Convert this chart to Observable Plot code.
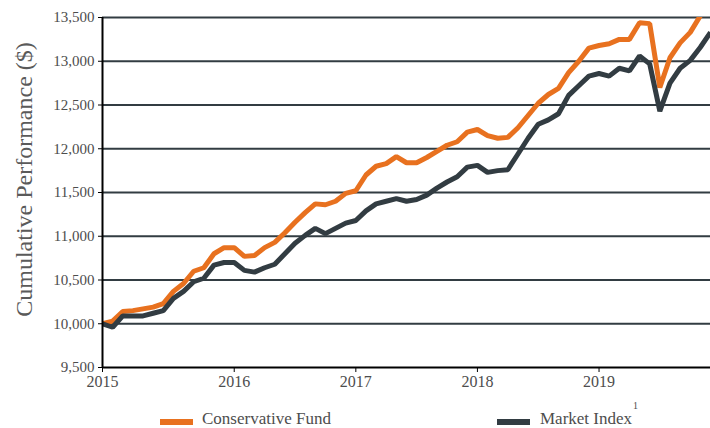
<!DOCTYPE html>
<html>
<head>
<meta charset="utf-8">
<script src="https://cdn.jsdelivr.net/npm/d3@7"></script>
<script src="https://cdn.jsdelivr.net/npm/@observablehq/plot@0.6"></script>
<style>
  body { margin: 0; background: #fff; }
  #wrap { position: relative; width: 710px; height: 428px; overflow: hidden; font-family: "Liberation Serif", serif; color: #4d4d4d; }
  #chart { position: absolute; left: 0; top: 0; }
  .sw { position: absolute; height: 6px; width: 33px; }
  .lt { position: absolute; font-size: 17px; line-height: 16px; white-space: nowrap; }
  .sup { position: absolute; font-size: 10px; line-height: 10px; }
</style>
</head>
<body>
<div id="wrap">
  <div id="chart"></div>
  <div id="legend"></div>
</div>
<script>
// ---- data ----
const seriesNames = ["Conservative Fund", "Market Index"];
const seriesColors = ["#e8711f", "#323c42"];

// monthly cumulative values, index 0 = start (labelled 2015)
const conservativeFund = [
  10000, 10030, 10140, 10150, 10170, 10190, 10230, 10370, 10460, 10600,
  10640, 10800, 10870, 10870, 10770, 10780, 10870, 10930, 11040, 11160,
  11270, 11370, 11360, 11400, 11490, 11520, 11700, 11800, 11830, 11910,
  11840, 11840, 11900, 11970, 12040, 12080, 12190, 12220, 12150, 12120,
  12130, 12240, 12380, 12520, 12620, 12690, 12870, 13000, 13150, 13180,
  13200, 13250, 13250, 13440, 13430, 12700, 13040, 13210, 13330, 13520,
  13700
];
const marketIndex = [
  10000, 9960, 10090, 10090, 10090, 10120, 10150, 10290, 10370, 10480,
  10520, 10670, 10700, 10700, 10610, 10590, 10640, 10680, 10800, 10920,
  11010, 11090, 11030, 11090, 11150, 11180, 11290, 11370, 11400, 11430,
  11400, 11420, 11470, 11550, 11620, 11680, 11790, 11810, 11730, 11750,
  11760, 11940, 12120, 12280, 12330, 12400, 12610, 12720, 12830, 12860,
  12830, 12920, 12890, 13060, 12970, 12430, 12750, 12920, 13010, 13160,
  13330
];

const yearLabels = ["2015", "2016", "2017", "2018", "2019"];
const yearTickIndex = [0, 13, 25, 37, 49];
const yTicks = [9500, 10000, 10500, 11000, 11500, 12000, 12500, 13000, 13500];
const yLabel = "Cumulative Performance ($)";

// ---- build table ----
const rows = [];
conservativeFund.forEach((v, i) => rows.push({ i, value: v, series: seriesNames[0] }));
marketIndex.forEach((v, i) => rows.push({ i, value: v, series: seriesNames[1] }));

const chart = Plot.plot({
  width: 710,
  height: 395,
  marginLeft: 102,
  marginRight: 0,
  marginTop: 17,
  marginBottom: 28,
  style: { fontFamily: "Liberation Serif, serif", fontSize: "15px", color: "#4d4d4d", background: "transparent", overflow: "visible" },
  x: { domain: [0, marketIndex.length - 1], axis: null },
  y: { domain: [yTicks[0], yTicks[yTicks.length - 1]], axis: null },
  color: { domain: seriesNames, range: seriesColors },
  marks: [
    Plot.ruleY(yTicks.slice(1), { stroke: "#323c42", strokeWidth: 2 }),
    Plot.line(rows.filter(d => d.series === seriesNames[0]), {
      x: "i", y: "value", stroke: seriesColors[0], strokeWidth: 5, clip: true, strokeLinejoin: "miter", strokeLinecap: "butt"
    }),
    Plot.line(rows.filter(d => d.series === seriesNames[1]), {
      x: "i", y: "value", stroke: seriesColors[1], strokeWidth: 5, clip: true, strokeLinejoin: "miter", strokeLinecap: "butt"
    }),
    Plot.ruleX([0], { stroke: "#000", strokeWidth: 2 }),
    Plot.ruleY([yTicks[0]], { stroke: "#000", strokeWidth: 2 }),
    Plot.axisY({ ticks: yTicks, tickFormat: d3.format(","), tickSize: 4, tickPadding: 4, label: null, stroke: "#000" }),
    Plot.axisX({ ticks: yearTickIndex, tickFormat: d => yearLabels[yearTickIndex.indexOf(d)], tickSize: 5, tickPadding: 3, label: null, stroke: "#000", fontSize: 16 }),
    Plot.text([yLabel], { frameAnchor: "left", textAnchor: "middle", lineAnchor: "middle", rotate: -90, dx: -78, dy: -13, fontSize: 24, fill: "#5a5a5a", text: d => d })
  ]
});
document.getElementById("chart").appendChild(chart);

// ---- legend (HTML, below the SVG) ----
const legend = document.getElementById("legend");
const legendPos = [{ sw: 160, tx: 202 }, { sw: 497, tx: 540 }];
seriesNames.forEach((name, k) => {
  const s = document.createElement("div");
  s.className = "sw";
  s.style.left = legendPos[k].sw + "px";
  s.style.top = "419px";
  s.style.background = seriesColors[k];
  legend.appendChild(s);
  const t = document.createElement("div");
  t.className = "lt";
  t.style.left = legendPos[k].tx + "px";
  t.style.top = "411px";
  t.textContent = name;
  legend.appendChild(t);
});
const sup = document.createElement("div");
sup.className = "sup";
sup.style.left = "633px";
sup.style.top = "401px";
sup.textContent = "1";
legend.appendChild(sup);
</script>
</body>
</html>
